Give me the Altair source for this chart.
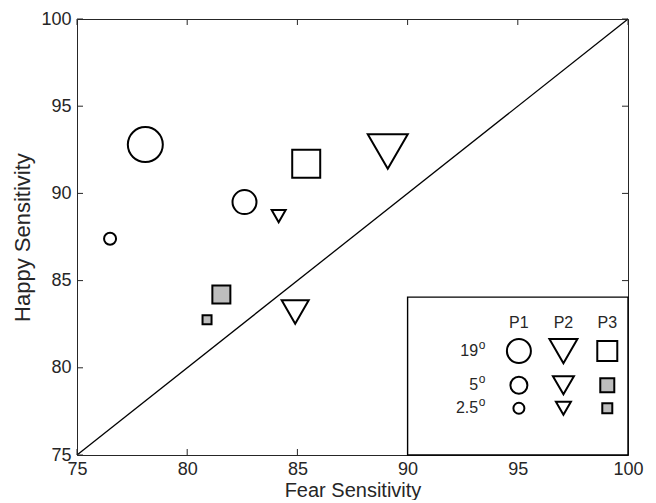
import altair as alt
import pandas as pd

# ---- data ----
participants = ["P1", "P1", "P1", "P2", "P2", "P2", "P3", "P3", "P3"]
eccentricity = ["19", "5", "2.5", "19", "5", "2.5", "19", "5", "2.5"]
fear = [78.1, 82.6, 76.5, 89.1, 84.9, 84.15, 85.4, 81.55, 80.9]
happy = [92.8, 89.5, 87.4, 92.4, 83.2, 88.7, 91.7, 84.2, 82.75]

axis_ticks = [75, 80, 85, 90, 95, 100]
legend_participants = ["P1", "P2", "P3"]
legend_eccentricities = ["19", "5", "2.5"]

# ---- styles ----
shape_of = {"P1": "circle", "P2": "triangle-down", "P3": "square"}
gray_filled = {("P3", "5"), ("P3", "2.5")}
point_area = [1225, 576, 144, 1600, 729, 196, 784, 324, 81]
legend_area = {
    "P1": [576, 289, 121],
    "P2": [784, 441, 225],
    "P3": [400, 196, 100],
}
legend_col_x = {"P1": 95.05, "P2": 97.07, "P3": 99.06}
legend_row_y = {"19": 80.96, "5": 79.0, "2.5": 77.68}
legend_header_y = 82.55
legend_label_x = 93.2
legend_box = {"x": 90, "x2": 100, "y": 75, "y2": 84.05}

INK = "#262626"
GRAY = "#bdbdbd"
FONT = "Liberation Sans"
W, H = 551, 436

pts = pd.DataFrame({
    "participant": participants,
    "ecc": eccentricity,
    "fear": fear,
    "happy": happy,
    "size": point_area,
})
pts["shape"] = pts["participant"].map(shape_of)
pts["fillc"] = [GRAY if (p, e) in gray_filled else "white"
                for p, e in zip(participants, eccentricity)]

xs = alt.Scale(domain=[75, 100], nice=False, zero=False)
ys = alt.Scale(domain=[75, 100], nice=False, zero=False)

x_axis = alt.Axis(values=axis_ticks, title="Fear Sensitivity", grid=False,
                  ticks=False, domain=False, labelPadding=5, titlePadding=2,
                  titleFontSize=20, labelFlush=False)
y_axis = alt.Axis(values=axis_ticks, title="Happy Sensitivity", grid=False,
                  ticks=False, domain=False, labelPadding=6, titlePadding=6,
                  titleFontSize=22, labelFlush=False)

# diagonal identity line
diag_df = pd.DataFrame({"fear": [75, 100], "happy": [75, 100]})
diag = alt.Chart(diag_df).mark_line(color="black", strokeWidth=1.3).encode(
    x=alt.X("fear:Q", scale=xs, axis=x_axis),
    y=alt.Y("happy:Q", scale=ys, axis=y_axis),
)

# inward ticks on all four sides
tick_df = pd.DataFrame({"v": axis_ticks})
tl = alt.Chart(tick_df).mark_rule(color=INK, strokeWidth=1).encode(
    y=alt.Y("v:Q", scale=ys), x=alt.value(0), x2=alt.value(6))
tr = alt.Chart(tick_df).mark_rule(color=INK, strokeWidth=1).encode(
    y=alt.Y("v:Q", scale=ys), x=alt.value(W - 6), x2=alt.value(W))
tb = alt.Chart(tick_df).mark_rule(color=INK, strokeWidth=1).encode(
    x=alt.X("v:Q", scale=xs), y=alt.value(H - 6), y2=alt.value(H))
tt = alt.Chart(tick_df).mark_rule(color=INK, strokeWidth=1).encode(
    x=alt.X("v:Q", scale=xs), y=alt.value(0), y2=alt.value(6))

points = alt.Chart(pts).mark_point(stroke="black", strokeWidth=2, opacity=1,
                                   fillOpacity=1, strokeOpacity=1).encode(
    x=alt.X("fear:Q", scale=xs),
    y=alt.Y("happy:Q", scale=ys),
    shape=alt.Shape("shape:N", scale=None),
    fill=alt.Fill("fillc:N", scale=None),
    size=alt.Size("size:Q", scale=None),
)

# ---- in-plot legend ----
box = alt.Chart(pd.DataFrame([legend_box])).mark_rect(
    fill="white", stroke="black", strokeWidth=1.4).encode(
    x=alt.X("x:Q", scale=xs), x2="x2:Q",
    y=alt.Y("y:Q", scale=ys), y2="y2:Q")

leg_rows = []
for p in legend_participants:
    for i, e in enumerate(legend_eccentricities):
        leg_rows.append({
            "x": legend_col_x[p], "y": legend_row_y[e],
            "shape": shape_of[p],
            "fillc": GRAY if (p, e) in gray_filled else "white",
            "size": legend_area[p][i],
        })
leg_df = pd.DataFrame(leg_rows)
leg_syms = alt.Chart(leg_df).mark_point(stroke="black", strokeWidth=2, opacity=1,
                                        fillOpacity=1, strokeOpacity=1).encode(
    x=alt.X("x:Q", scale=xs), y=alt.Y("y:Q", scale=ys),
    shape=alt.Shape("shape:N", scale=None),
    fill=alt.Fill("fillc:N", scale=None),
    size=alt.Size("size:Q", scale=None),
)

hdr_df = pd.DataFrame({"x": [legend_col_x[p] for p in legend_participants],
                       "y": [legend_header_y] * 3,
                       "t": legend_participants})
headers = alt.Chart(hdr_df).mark_text(font=FONT, fontSize=16, color=INK,
                                      baseline="middle", align="center").encode(
    x=alt.X("x:Q", scale=xs), y=alt.Y("y:Q", scale=ys), text="t:N")

lab_df = pd.DataFrame({"x": [legend_label_x] * 3,
                       "y": [legend_row_y[e] for e in legend_eccentricities],
                       "t": legend_eccentricities})
labels = alt.Chart(lab_df).mark_text(font=FONT, fontSize=16, color=INK,
                                     baseline="middle", align="right").encode(
    x=alt.X("x:Q", scale=xs), y=alt.Y("y:Q", scale=ys), text="t:N")
sup = alt.Chart(lab_df).mark_text(font=FONT, fontSize=12, color=INK,
                                  baseline="middle", align="left", dx=0.5, dy=-6).encode(
    x=alt.X("x:Q", scale=xs), y=alt.Y("y:Q", scale=ys), text=alt.value("o"))

chart = alt.layer(diag, tl, tr, tb, tt, points, box, leg_syms, headers, labels, sup).properties(
    width=W, height=H,
    padding={"left": 3, "top": 2, "right": 2, "bottom": 0},
).configure_view(
    stroke=INK, strokeWidth=1,
).configure_axis(
    labelFont=FONT, labelFontSize=18, labelColor=INK,
    titleFont=FONT, titleFontWeight="normal", titleColor=INK,
)

chart.save("out.html", embed_options={"renderer": "svg", "actions": False})
